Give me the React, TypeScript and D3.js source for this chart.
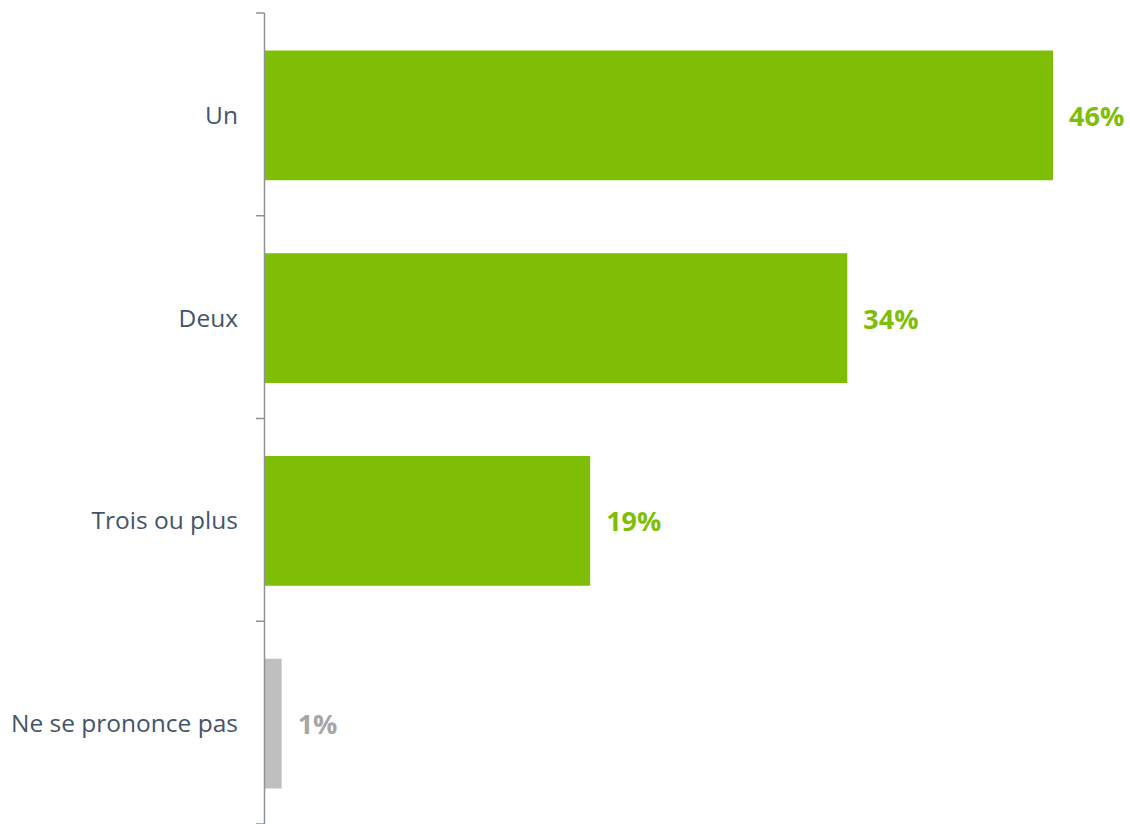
import React from "react";
import * as d3 from "d3";

const categories = ["Un", "Deux", "Trois ou plus", "Ne se prononce pas"];
const values = [46, 34, 19, 1];
const barColors = ["#7FBE06", "#7FBE06", "#7FBE06", "#BFBFBF"];
const labelColors = ["#7FBE06", "#7FBE06", "#7FBE06", "#A6A6A6"];

const W = 1130;
const H = 824;
const axisX = 264.5;
const top = 13;
const bottom = 824;

export default function App() {
  const x = d3.scaleLinear().domain([0, 46]).range([axisX, 1053]);
  const y = d3.scaleBand<string>().domain(categories).range([top + 1, bottom + 1]).paddingInner(0.36).paddingOuter(0.18);
  const step = (bottom - top) / categories.length;
  const ticks = d3.range(categories.length + 1).map((i) => top + i * step);

  return (
    <svg width={W} height={H} style={{ position: "absolute", left: 0, top: 0, background: "#fff" }}
      fontFamily="'Open Sans', sans-serif">
      {categories.map((c, i) => (
        <g key={c}>
          <rect x={x(0)} y={y(c)!} width={x(values[i]) - x(0)} height={y.bandwidth()} fill={barColors[i]} />
          <text x={238} y={y(c)! + y.bandwidth() / 2} dy="0.35em" textAnchor="end" fontSize={24.5} fill="#44546A">
            {c}
          </text>
          <text x={x(values[i]) + 16} y={y(c)! + y.bandwidth() / 2 + 1} dy="0.35em" fontSize={27} fontWeight="bold" fill={labelColors[i]}>
            {values[i]}%
          </text>
        </g>
      ))}
      <line x1={axisX} x2={axisX} y1={top} y2={bottom} stroke="#8E9296" strokeWidth={1.5} />
      {ticks.map((t, i) => (
        <line key={i} x1={256} x2={axisX} y1={t} y2={t} stroke="#8E9296" strokeWidth={1.5} />
      ))}
    </svg>
  );
}
